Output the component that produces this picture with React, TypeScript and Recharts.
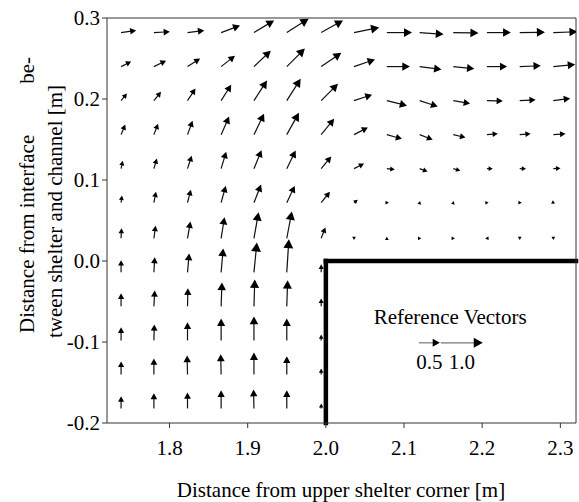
import React from "react";
import { ScatterChart, Scatter, XAxis, YAxis, ReferenceLine, ReferenceDot } from "recharts";

// grid positions of the measured vectors [m]
const xCols = [1.738, 1.78, 1.823, 1.866, 1.908, 1.95, 1.994, 2.036, 2.078, 2.12, 2.163, 2.206, 2.248, 2.291];
const yRows = [0.282, 0.24, 0.198, 0.156, 0.114, 0.072, 0.028, -0.014, -0.056, -0.098, -0.14, -0.182];

// horizontal component, one row per y (rows below 0 stop at the shelter wall)
const uRows = [
  [0.36, 0.38, 0.4, 0.45, 0.48, 0.52, 0.52, 0.6, 0.6, 0.57, 0.6, 0.57, 0.6, 0.57],
  [0.24, 0.29, 0.3, 0.33, 0.4, 0.43, 0.48, 0.5, 0.55, 0.52, 0.5, 0.48, 0.5, 0.52],
  [0.14, 0.17, 0.19, 0.24, 0.31, 0.33, 0.4, 0.43, 0.48, 0.43, 0.4, 0.38, 0.38, 0.4],
  [0.1, 0.1, 0.12, 0.19, 0.24, 0.29, 0.31, 0.33, 0.36, 0.31, 0.29, 0.26, 0.26, 0.29],
  [0.04, 0.07, 0.1, 0.12, 0.18, 0.21, 0.24, 0.24, 0.19, 0.19, 0.17, 0.14, 0.15, 0.17],
  [0.02, 0.05, 0.08, 0.11, 0.17, 0.19, 0.21, 0.09, 0.05, 0.01, 0.01, 0.04, 0.05, 0.04],
  [0.01, 0.04, 0.07, 0.08, 0.11, 0.12, 0.1, 0, 0, 0.04, 0.04, -0.04, 0, 0],
  [0, 0.02, 0.04, 0.05, 0.07, 0.05, 0],
  [0, 0.02, 0.01, 0.02, 0.02, 0.02, 0],
  [0, 0.01, 0, 0, 0, 0, 0],
  [0, 0, -0.01, -0.01, 0, 0, 0],
  [0, 0, 0, 0, -0.01, 0, 0],
];

// vertical component
const vRows = [
  [0.05, 0.02, 0.05, 0.17, 0.29, 0.33, 0.29, 0.12, 0, -0.04, -0.01, 0, 0.01, 0.02],
  [0.12, 0.14, 0.19, 0.26, 0.38, 0.43, 0.33, 0.17, 0, -0.07, -0.05, 0, 0.02, 0.05],
  [0.17, 0.21, 0.29, 0.38, 0.48, 0.52, 0.4, 0.14, -0.12, -0.14, -0.07, -0.01, 0.02, 0.05],
  [0.24, 0.26, 0.33, 0.43, 0.5, 0.52, 0.38, 0.17, -0.1, -0.12, -0.07, 0.02, 0.02, 0.02],
  [0.19, 0.24, 0.31, 0.4, 0.44, 0.43, 0.29, 0.12, -0.02, -0.07, -0.05, 0, 0, 0.01],
  [0.17, 0.26, 0.31, 0.4, 0.43, 0.4, 0.26, 0.07, 0, 0.04, 0.04, 0.01, 0, -0.02],
  [0.24, 0.3, 0.4, 0.5, 0.62, 0.64, 0.26, -0.04, 0.04, 0, 0, 0, -0.04, -0.04],
  [0.29, 0.36, 0.45, 0.57, 0.71, 0.79, 0.19],
  [0.31, 0.38, 0.43, 0.57, 0.64, 0.62, 0.19],
  [0.31, 0.38, 0.43, 0.52, 0.57, 0.52, 0.14],
  [0.31, 0.38, 0.45, 0.48, 0.52, 0.43, 0.14],
  [0.29, 0.36, 0.38, 0.43, 0.45, 0.43, 0.12],
];

// reference vectors
const refX = [2.119, 2.147];
const refY = -0.101;
const refU = [0.5, 1.0];
const refLabels = ["0.5", "1.0"];

const xTicks = [1.8, 1.9, 2.0, 2.1, 2.2, 2.3];
const yTicks = [-0.2, -0.1, 0, 0.1, 0.2, 0.3];
const xMinor = [1.75, 1.8, 1.85, 1.9, 1.95, 2.0, 2.05, 2.1, 2.15, 2.2, 2.25, 2.3];
const yMinor = [-0.2, -0.15, -0.1, -0.05, 0, 0.05, 0.1, 0.15, 0.2, 0.25, 0.3];

const FONT = "'Liberation Serif', 'Times New Roman', serif";
const FS = 21;
const SCALE = 42; // px per unit of velocity

const points = yRows.flatMap((y, r) =>
  uRows[r].map((u, c) => ({ x: xCols[c], y, u, v: vRows[r][c] }))
);
const refPoints = refX.map((x, i) => ({ x, y: refY, u: refU[i], v: 0, ref: true, label: refLabels[i] }));

const Arrow = (props: any) => {
  const { cx, cy, payload } = props;
  if (cx == null || cy == null) return <g />;
  const dx = payload.u * SCALE;
  const dy = -payload.v * SCALE;
  const len = Math.hypot(dx, dy);
  if (len < 0.01) return <g />;
  const ex = dx / len;
  const ey = dy / len;
  const hl = Math.min(9, 3 + 0.2 * len);
  const hw = hl * 0.55;
  const tx = cx + dx;
  const ty = cy + dy;
  const bx = tx - ex * hl;
  const by = ty - ey * hl;
  return (
    <g>
      {len > hl && (
        <line x1={cx} y1={cy} x2={bx + ex} y2={by + ey} stroke={payload.ref ? "#777" : "#111"} strokeWidth={1.2} />
      )}
      <polygon
        points={`${tx},${ty} ${bx - ey * hw},${by + ex * hw} ${bx + ey * hw},${by - ex * hw}`}
        fill="#000"
      />
      {payload.label && (
        <text x={cx + dx / 2} y={cy + 26} textAnchor="middle" style={{ fontFamily: FONT, fontSize: FS }} fill="#000">
          {payload.label}
        </text>
      )}
    </g>
  );
};

const tickStyle = { fill: "#000", fontSize: FS, fontFamily: FONT };

export default function App() {
  return (
    <div style={{ position: "absolute", left: 0, top: 0, width: 579, height: 502, background: "#fff" }}>
      <ScatterChart width={579} height={502} margin={{ top: 13, right: 0, bottom: 0, left: 0 }}>
        <XAxis
          type="number"
          dataKey="x"
          domain={[1.72, 2.32]}
          ticks={xTicks}
          allowDataOverflow
          tickFormatter={(v: number) => v.toFixed(1)}
          tick={tickStyle}
          tickSize={5}
          tickMargin={12}
          height={79}
          stroke="#333"
          label={{
            content: () => (
              <text x={341} y={497} textAnchor="middle" style={{ fontFamily: FONT, fontSize: FS }} fill="#000">
                Distance from upper shelter corner [m]
              </text>
            ),
          }}
        />
        <XAxis
          xAxisId="top"
          orientation="top"
          type="number"
          dataKey="x"
          domain={[1.72, 2.32]}
          ticks={xMinor}
          allowDataOverflow
          tick={false}
          tickSize={5}
          height={5}
          stroke="#333"
        />
        <YAxis
          type="number"
          dataKey="y"
          domain={[-0.2, 0.3]}
          ticks={yTicks}
          allowDataOverflow
          tickFormatter={(v: number) => v.toFixed(1)}
          tick={tickStyle}
          tickSize={5}
          width={107}
          stroke="#333"
          label={{
            content: () => (
              <g style={{ fontFamily: FONT, fontSize: FS }} fill="#000">
                <text transform="translate(34,333) rotate(-90)" textAnchor="start">
                  Distance from interface
                </text>
                <text transform="translate(34,57) rotate(-90)" textAnchor="end">
                  be-
                </text>
                <text transform="translate(62,338) rotate(-90)" textAnchor="start">
                  tween shelter and channel [m]
                </text>
              </g>
            ),
          }}
        />
        <YAxis
          yAxisId="right"
          orientation="right"
          type="number"
          dataKey="y"
          domain={[-0.2, 0.3]}
          ticks={yMinor}
          allowDataOverflow
          tick={false}
          tickSize={4}
          width={3}
          stroke="#333"
        />
        <Scatter data={points} shape={Arrow} isAnimationActive={false} />
        <Scatter data={refPoints} shape={Arrow} isAnimationActive={false} />
        <ReferenceLine
          segment={[{ x: 2.0, y: 0 }, { x: 2.32, y: 0 }]}
          stroke="#000"
          strokeWidth={4.5}
          strokeLinecap="square"
        />
        <ReferenceLine
          segment={[{ x: 2.0, y: -0.2 }, { x: 2.0, y: 0 }]}
          stroke="#000"
          strokeWidth={4.5}
          strokeLinecap="square"
        />
        <ReferenceDot
          x={2.159}
          y={-0.069}
          r={0}
          stroke="none"
          fill="none"
          label={{ value: "Reference Vectors", position: "center", fill: "#000", fontSize: FS, fontFamily: FONT }}
        />
      </ScatterChart>
    </div>
  );
}
